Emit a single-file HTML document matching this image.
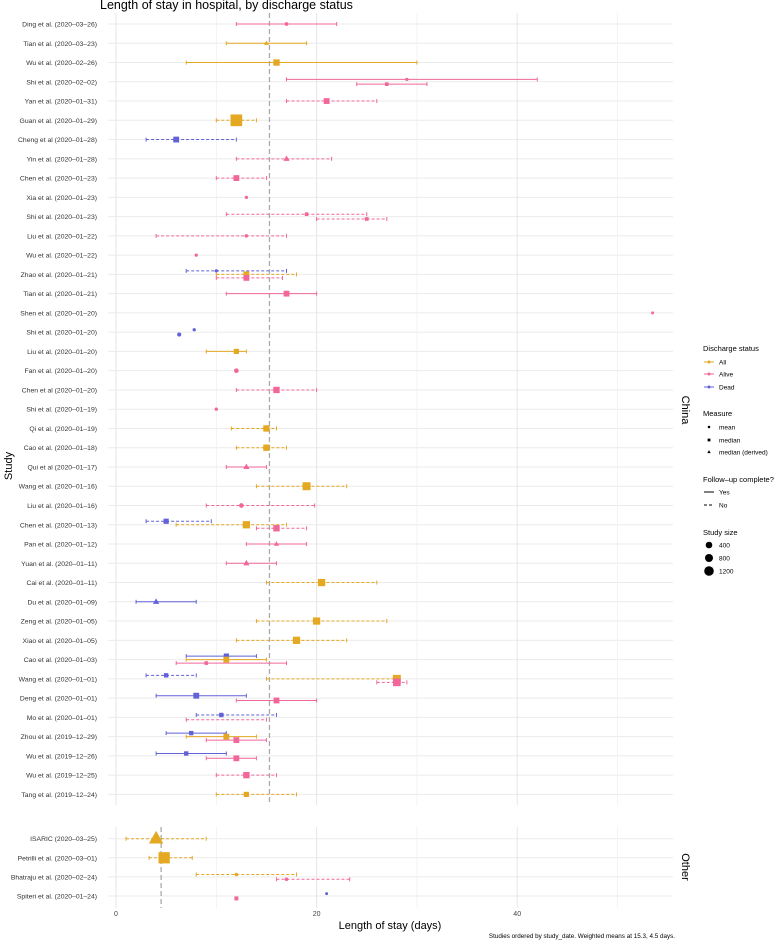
<!DOCTYPE html>
<html><head><meta charset="utf-8">
<style>
body{margin:0;background:#fff;}
svg text{font-family:"Liberation Sans",sans-serif;}
</style></head>
<body>
<svg id="chart" width="778" height="940" viewBox="0 0 778 940" xmlns="http://www.w3.org/2000/svg">
<text x="100" y="9" font-size="12.5" fill="#000">Length of stay in hospital, by discharge status</text>
<text transform="translate(12,466) rotate(-90)" font-size="11" text-anchor="middle">Study</text>
<text x="390" y="929" font-size="11" text-anchor="middle">Length of stay (days)</text>
<text x="675" y="938" font-size="6.3" text-anchor="end">Studies ordered by study_date. Weighted means at 15.3, 4.5 days.</text>
<text transform="translate(682,410) rotate(90)" font-size="11" text-anchor="middle">China</text>
<text transform="translate(682,867) rotate(90)" font-size="11" text-anchor="middle">Other</text>
<g id="grid"></g><g id="marks"></g><g id="legend"></g>
</svg>
<script>
const chinaStudies=["Ding et al. (2020–03–26)","Tian et al. (2020–03–23)","Wu et al. (2020–02–26)","Shi et al. (2020–02–02)","Yan et al. (2020–01–31)","Guan et al. (2020–01–29)","Cheng et al (2020–01–28)","Yin et al. (2020–01–28)","Chen et al. (2020–01–23)","Xia et al. (2020–01–23)","Shi et al. (2020–01–23)","Liu et al. (2020–01–22)","Wu et al. (2020–01–22)","Zhao et al. (2020–01–21)","Tian et al. (2020–01–21)","Shen et al. (2020–01–20)","Shi et al. (2020–01–20)","Liu et al. (2020–01–20)","Fan et al. (2020–01–20)","Chen et al (2020–01–20)","Shi et al. (2020–01–19)","Qi et al. (2020–01–19)","Cao et al. (2020–01–18)","Qui et al (2020–01–17)","Wang et al. (2020–01–16)","Liu et al. (2020–01–16)","Chen et al. (2020–01–13)","Pan et al. (2020–01–12)","Yuan et al. (2020–01–11)","Cai et al. (2020–01–11)","Du et al. (2020–01–09)","Zeng et al. (2020–01–05)","Xiao et al. (2020–01–05)","Cao et al. (2020–01–03)","Wang et al. (2020–01–01)","Deng et al. (2020–01–01)","Mo et al. (2020–01–01)","Zhou et al. (2019–12–29)","Wu et al. (2019–12–26)","Wu et al. (2019–12–25)","Tang et al. (2019–12–24)"];
const otherStudies=["ISARIC (2020–03–25)","Petrilli et al. (2020–03–01)","Bhatraju et al. (2020–02–24)","Spiteri et al. (2020–01–24)"];
const xTicks=[0,20,40];
const xMinor=[10,30,50];
const weightedMeans=[15.3,4.5];
// entries: study index (China 0..40, Other 41..44)
const eStudy=[0,1,2,3,3,4,5,6,7,8,9,10,10,11,12,13,13,13,14,15,16,16,17,18,19,20,21,22,23,24,25,26,26,26,27,28,29,30,31,32,33,33,33,34,34,34,35,35,36,36,37,37,37,38,38,39,40,41,42,43,43,44,44];
const eStatus=["Alive","All","All","Alive","Alive","Alive","All","Dead","Alive","Alive","Alive","Alive","Alive","Alive","Alive","Dead","All","Alive","Alive","Alive","Dead","Dead","All","Alive","Alive","Alive","All","All","Alive","All","Alive","Dead","All","Alive","Alive","Alive","All","Dead","All","All","Dead","All","Alive","Dead","All","Alive","Dead","Alive","Dead","Alive","Dead","All","Alive","Dead","Alive","Alive","All","All","All","All","Alive","Dead","Alive"];
const eMeasure=["mean","dmedian","median","mean","median","median","median","median","dmedian","median","mean","median","median","mean","mean","mean","median","median","median","mean","mean","mean","median","mean","median","mean","median","median","dmedian","median","mean","median","median","median","dmedian","dmedian","median","dmedian","median","median","median","median","median","median","median","median","median","median","median","median","median","median","median","median","median","median","median","dmedian","median","mean","mean","mean","median"];
const eComplete=[1,1,1,1,1,0,0,0,0,0,1,0,0,0,1,0,0,0,1,1,1,1,1,1,0,1,0,0,1,0,0,0,0,0,1,1,0,1,0,0,1,1,1,0,0,0,1,1,0,0,1,1,1,1,1,0,0,0,0,0,0,1,1];
const eLow=[12,11,7,17,24,17,10,3,12,10,null,11,20,4,null,7,10,10,11,null,null,null,9,null,12,null,11.5,12,11,14,9,3,6,14,13,11,15,2,14,12,7,7,6,3,15,26,4,12,8,7,5,7,9,4,9,10,10,1,3.3,8,16,null,null];
const eEst=[17,15,16,29,27,21,12,6,17,12,13,19,25,13,8,10,13,13,17,53.5,7.8,6.3,12,12,16,10,15,15,13,19,12.5,5,13,16,16,13,20.5,4,20,18,11,11,9,5,28,28,8,16,10.5,null,7.5,11,12,7,12,13,13,4,4.8,12,17,21,12];
const eHigh=[22,19,30,42,31,26,14,12,21.5,15,null,25,27,17,null,17,18,16.6,20,null,null,null,13,null,20,null,16,17,15,23,19.8,9.5,17,19,19,16,26,8,27,23,14,15,17,8,28,29,13,20,16,15,11,14,15,11,14,16,18,9,7.6,18,23.3,null,null];
const eSize=[40,40,200,20,20,150,1099,150,100,150,20,20,20,30,20,20,150,150,150,10,20,60,100,100,200,20,200,200,100,400,100,100,300,200,50,100,300,100,300,300,100,150,20,50,400,350,150,150,50,50,50,150,150,50,150,200,100,1200,1000,30,30,10,30];

const NS="http://www.w3.org/2000/svg";
const colors={All:"#E5A823",Alive:"#F2679A",Dead:"#6262D8"};
const X0=116, XS=10.03, PL=108, PR=673;
const xScale=v=>X0+v*XS;
const yScale=i=>i<41?24+i*19.26:838.7+(i-41)*19.1;
function mk(tag,attrs,parent){const e=document.createElementNS(NS,tag);for(const k in attrs)e.setAttribute(k,attrs[k]);parent.appendChild(e);return e;}
const grid=document.getElementById('grid'), marks=document.getElementById('marks'), leg=document.getElementById('legend');
const panels=[[13,805,0,41],[827,908,41,45]];
panels.forEach((p,pi)=>{
  for(let i=p[2];i<p[3];i++){
    const y=yScale(i);
    const gl=mk('line',{x1:PL,x2:PR,y1:y,y2:y,stroke:'#ebebeb','stroke-width':1},grid);
    
    
    const name=i<41?chinaStudies[i]:otherStudies[i-41];
    const t=mk('text',{x:97,y:y+2.5,'font-size':6.8,'text-anchor':'end',fill:'#333'},grid);
    t.textContent=name;
    
    
  }
  xMinor.forEach(v=>{const l=mk('line',{x1:xScale(v),x2:xScale(v),y1:p[0],y2:p[1],stroke:'#f0f0f0','stroke-width':0.8},grid);
    
    });
  xTicks.forEach(v=>{const l=mk('line',{x1:xScale(v),x2:xScale(v),y1:p[0],y2:p[1],stroke:'#e6e6e6','stroke-width':1},grid);
    
    });
  const m=mk('line',{x1:xScale(weightedMeans[pi]),x2:xScale(weightedMeans[pi]),y1:p[0],y2:p[1],stroke:'#aaa','stroke-width':1.3,'stroke-dasharray':'5,3'},grid);
  
  
});
xTicks.forEach(v=>{const t=mk('text',{x:xScale(v),y:916,'font-size':7,'text-anchor':'middle',fill:'#444'},grid);t.textContent=v;
  
  });
// dodge
const counts={},seen={};
eStudy.forEach(s=>counts[s]=(counts[s]||0)+1);
function shape(meas,cx,cy,r,col,parent){
  if(meas==='mean')return mk('circle',{cx,cy,r:r*0.9,fill:col},parent);
  if(meas==='median')return mk('rect',{x:cx-r,y:cy-r,width:2*r,height:2*r,fill:col},parent);
  return mk('polygon',{points:`${cx},${cy-r*1.3} ${cx-r*1.2},${cy+r*0.8} ${cx+r*1.2},${cy+r*0.8}`,fill:col},parent);
}
eStudy.forEach((s,i)=>{
  const k=seen[s]||0; seen[s]=k+1; const n=counts[s];
  const off=n===1?0:(n===2?(k===0?-2.4:2.4):(k-1)*3.5);
  const y=yScale(s)+off, col=colors[eStatus[i]];
  const g=mk('g',{},marks);
  
  
  if(eLow[i]!==null){
    const a={x1:xScale(eLow[i]),x2:xScale(eHigh[i]),y1:y,y2:y,stroke:col,'stroke-width':1};
    if(!eComplete[i])a['stroke-dasharray']='3,2';
    mk('line',a,g);
    [eLow[i],eHigh[i]].forEach(v=>mk('line',{x1:xScale(v),x2:xScale(v),y1:y-2,y2:y+2,stroke:col,'stroke-width':1},g));
  }
  if(eEst[i]!==null){
    const r=1.2+Math.sqrt(eSize[i])*0.14;
    shape(eMeasure[i],xScale(eEst[i]),y,r,col,g);
  }
});
// legend
function lt(txt,x,y,fs,name){const t=mk('text',{x,y,'font-size':fs,fill:'#000'},leg);t.textContent=txt;
  
  return t;}
lt('Discharge status',703,351,7.5,'legend-title-status');
[['All',362],['Alive',374],['Dead',387]].forEach(([s,y])=>{
  mk('line',{x1:704,x2:714,y1:y,y2:y,stroke:colors[s],'stroke-width':1},leg);
  mk('circle',{cx:709,cy:y,r:1.5,fill:colors[s]},leg);
  lt(s,719,y+2.5,6.5,'legend-entry');
});
lt('Measure',703,416,7.5,'legend-title-measure');
[['mean',427],['median',440],['dmedian',452]].forEach(([m,y])=>{
  shape(m,709,y,1.4,'#000',leg);
  lt(m==='dmedian'?'median (derived)':m,719,y+2.5,6.5,'legend-entry');
});
lt('Follow–up complete?',703,482,7.5,'legend-title-followup');
mk('line',{x1:704,x2:714,y1:492,y2:492,stroke:'#000','stroke-width':1},leg);
lt('Yes',719,494.5,6.5,'legend-entry');
mk('line',{x1:704,x2:714,y1:505,y2:505,stroke:'#000','stroke-width':1,'stroke-dasharray':'3,2'},leg);
lt('No',719,507.5,6.5,'legend-entry');
lt('Study size',703,535,7.5,'legend-title-size');
[[400,545,3.3],[800,558,4],[1200,571,4.8]].forEach(([v,y,r])=>{
  mk('circle',{cx:709,cy:y,r,fill:'#000'},leg);
  lt(String(v),719,y+2.5,6.5,'legend-entry');
});
</script>
</body></html>
